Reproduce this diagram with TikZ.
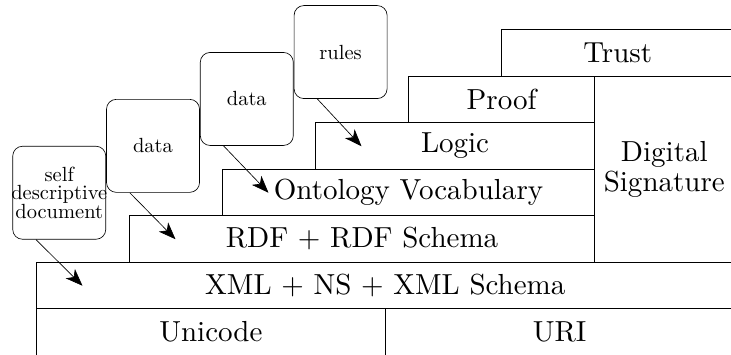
\documentclass[tikz,border=0pt]{standalone}
\usepackage{amsmath}
\usepackage{tikz}
\usetikzlibrary{arrows.meta,positioning}

\begin{document}
\begin{tikzpicture}[->,>={Stealth[length=10.5pt,width=8pt,inset=3pt]},
                    thin]
  \tikzstyle{layer}=[draw,rectangle,anchor=south west,scale=5/3,inner sep=0pt,
                     minimum height=6mm,font=\fontsize{10.65}{11}\selectfont]
  \tikzstyle{callout}=[draw,rectangle,scale=1.2,rounded corners=2.1mm,
                       minimum size=2cm/1.2,inner sep=0pt,inner xsep=-1pt,
                       align=center,font=\fontsize{10.45}{9.5}\selectfont]

  \useasboundingbox (-0.774,0.032) rectangle (14.946,7.645);

  % the stack (widths are before the 5/3 scaling)
  \node[layer,minimum width=4.5cm]  (unicode) at (0,0)   {Unicode};
  \node[layer,minimum width=4.5cm]  (uri)     at (7.5,0) {URI};
  \node[layer,minimum width=9cm]    (xml)     at (0,1)   {XML + NS + XML Schema};
  \node[layer,minimum width=6cm]    (rdf)     at (2,2)   {RDF + RDF Schema};
  \node[layer,minimum width=4.8cm]  (onto)    at (4,3)   {Ontology Vocabulary};
  \node[layer,minimum width=3.6cm]  (logic)   at (6,4)   {Logic};
  \node[layer,minimum width=2.4cm]  (proof)   at (8,5)   {Proof};
  \node[layer,minimum width=3cm]    (trust)   at (10,6)  {Trust};
  \node[layer,minimum width=1.8cm,minimum height=2.4cm,align=center]
                                    (sig)     at (12,2)  {Digital\\Signature};

  % what goes in
  \node[callout] (self) at (0.5,3.5) {self\\descriptive\\document};
  \node[callout,anchor=south west] (data1) at (self.east)  {data};
  \node[callout,anchor=south west] (data2) at (data1.east) {data};
  \node[callout,anchor=south west] (rules) at (data2.east) {rules};

  \coordinate (inxml)  at (1,1.5);
  \coordinate (inrdf)  at (3,2.5);
  \coordinate (inonto) at (5,3.5);
  \coordinate (inlog)  at (7,4.5);

  \path ([xshift=-5mm]self.south)  edge (inxml)
        ([xshift=-5mm]data1.south) edge (inrdf)
        ([xshift=-5mm]data2.south) edge (inonto)
        ([xshift=-5mm]rules.south) edge (inlog);
\end{tikzpicture}
\end{document}
